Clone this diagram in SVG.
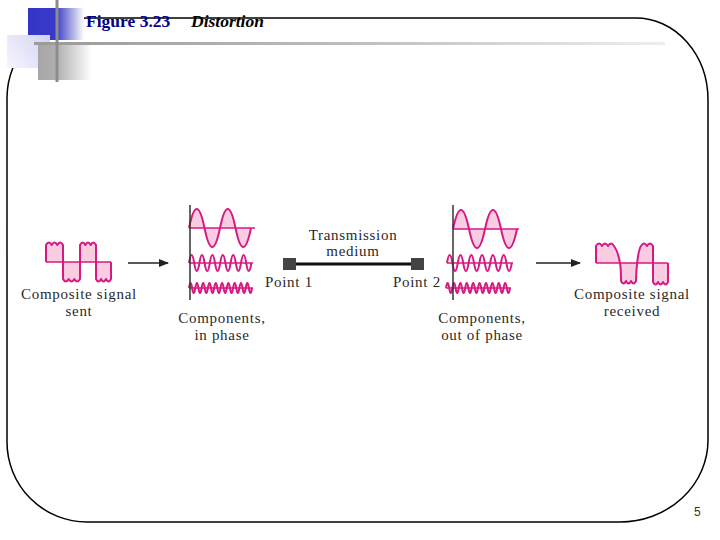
<svg xmlns="http://www.w3.org/2000/svg" width="720" height="540" viewBox="0 0 720 540">
<defs>
<linearGradient id="gBlue" x1="28" y1="0" x2="84" y2="0" gradientUnits="userSpaceOnUse">
<stop offset="0" stop-color="#3434c8"/><stop offset="0.5" stop-color="#3a3ac9"/><stop offset="0.75" stop-color="#9c9ce0"/><stop offset="1" stop-color="#ffffff"/>
</linearGradient>
<linearGradient id="gLav" x1="7" y1="68" x2="50" y2="35" gradientUnits="userSpaceOnUse">
<stop offset="0" stop-color="#f6f6fe"/><stop offset="1" stop-color="#d2d2f2"/>
</linearGradient>
<linearGradient id="gGray" x1="38" y1="0" x2="92" y2="0" gradientUnits="userSpaceOnUse">
<stop offset="0" stop-color="#a6a6a6"/><stop offset="0.35" stop-color="#b0b0b0"/><stop offset="1" stop-color="#ffffff"/>
</linearGradient>
<linearGradient id="gLine" x1="34" y1="0" x2="665" y2="0" gradientUnits="userSpaceOnUse">
<stop offset="0" stop-color="#9a9a9a"/><stop offset="0.5" stop-color="#bdbdbd"/><stop offset="1" stop-color="#eeeeee"/>
</linearGradient>
<marker id="arr" markerWidth="10" markerHeight="8" refX="9" refY="4" orient="auto" markerUnits="userSpaceOnUse">
<path d="M0,0 L10,4 L0,8 Z" fill="#222"/>
</marker>
<style>
.lbl{font-family:"Liberation Serif","Times New Roman",serif;font-size:15px;letter-spacing:0.7px;fill:#2a2a2a;text-anchor:middle}
.lbs{font-family:"Liberation Serif","Times New Roman",serif;font-size:15px;letter-spacing:0.7px;fill:#2a2a2a}
.wv{fill:none;stroke:#d61a82;stroke-width:2;stroke-linejoin:round}
.fillp{fill:#f9cce2;stroke:none}
.base{stroke:#d61a82;stroke-width:1.6}
.axis{stroke:#333;stroke-width:1.5}
.arrow{stroke:#222;stroke-width:1.5;fill:none}
.ttl{font-family:"Liberation Serif","Times New Roman",serif;font-size:17.5px;font-weight:bold}
</style>
</defs>
<rect width="720" height="540" fill="#fff"/>
<!-- frame -->
<path d="M87,18 H636 A72,82 0 0 1 708,100 V440 A88,82 0 0 1 620,522 H87 A80,80 0 0 1 7,442 V98 A80,80 0 0 1 87,18 Z" fill="none" stroke="#000" stroke-width="1.5"/>
<!-- decoration -->
<g id="decoration">
<rect x="28" y="8" width="56" height="32" fill="url(#gBlue)"/>
<rect x="7" y="35" width="43" height="33" fill="url(#gLav)"/>
<rect x="38" y="45" width="54" height="35" fill="url(#gGray)"/>
<line x1="34" y1="43.5" x2="665" y2="43.5" stroke="url(#gLine)" stroke-width="3"/>
<line x1="57" y1="0" x2="57" y2="82" stroke="#8c8c8c" stroke-width="3"/>
</g>
<g id="title">
<text class="ttl" x="86" y="27" fill="#00008c">Figure 3.23</text>
<text class="ttl" x="191" y="27" font-style="italic" fill="#000">Distortion</text>
</g>
<!-- connectors -->
<g id="connectors">
<line class="arrow" x1="128" y1="263" x2="168" y2="263" marker-end="url(#arr)"/>
<line class="arrow" x1="536" y1="263" x2="580" y2="263" marker-end="url(#arr)"/>
</g>
<g id="sent">
<path class="fillp" d="M46,262 V245 Q48.8,240 51.7,245 Q54.5,240 57.3,245 Q60.2,240 63,245 V279 Q65.8,284 68.7,279 Q71.5,284 74.3,279 Q77.2,284 80,279 V245 Q82.7,240 85.3,245 Q88,240 90.7,245 Q93.3,240 96,245 V279 Q98.5,284 101,279 Q103.5,284 106,279 Q108.5,284 111,279 V262 Z"/>
<path class="wv" d="M46,262 V245 Q48.8,240 51.7,245 Q54.5,240 57.3,245 Q60.2,240 63,245 V279 Q65.8,284 68.7,279 Q71.5,284 74.3,279 Q77.2,284 80,279 V245 Q82.7,240 85.3,245 Q88,240 90.7,245 Q93.3,240 96,245 V279 Q98.5,284 101,279 Q103.5,284 106,279 Q108.5,284 111,279 V262"/>
<line class="base" x1="46" y1="262" x2="111" y2="262"/>
<text class="lbl" x="79" y="299">Composite signal</text>
<text class="lbl" x="79" y="316">sent</text>
</g>
<g id="inphase">
<path class="fillp" d="M189,228 q7.75,-38 15.5,0 t15.5,0 t15.5,0 t15.5,0 Z"/>
<path class="wv" d="M189,228 q7.75,-38 15.5,0 t15.5,0 t15.5,0 t15.5,0"/>
<line class="base" x1="189" y1="228" x2="255" y2="228"/>
<path class="wv" d="M189,263 q2.6,-16 5.2,0 t5.2,0 t5.2,0 t5.2,0 t5.2,0 t5.2,0 t5.2,0 t5.2,0 t5.2,0 t5.2,0 t5.2,0 t5.2,0"/>
<line class="base" x1="189" y1="263" x2="253" y2="263"/>
<path class="wv" d="M189,288 q1.6,-10 3.15,0 t3.15,0 t3.15,0 t3.15,0 t3.15,0 t3.15,0 t3.15,0 t3.15,0 t3.15,0 t3.15,0 t3.15,0 t3.15,0 t3.15,0 t3.15,0 t3.15,0 t3.15,0 t3.15,0 t3.15,0 t3.15,0 t3.15,0"/>
<line class="base" x1="189" y1="288" x2="253" y2="288"/>
<line class="axis" x1="190" y1="205" x2="190" y2="300"/>
<text class="lbl" x="222" y="323">Components,</text>
<text class="lbl" x="222" y="340">in phase</text>
</g>
<g id="medium">
<line x1="290" y1="264" x2="417" y2="264" stroke="#111" stroke-width="3"/>
<rect x="283" y="258" width="13" height="12" fill="#444"/>
<rect x="411" y="258" width="13" height="12" fill="#444"/>
<text class="lbl" x="353" y="240">Transmission</text>
<text class="lbl" x="353" y="256">medium</text>
<text class="lbs" x="265" y="287">Point 1</text>
<text class="lbs" x="393" y="287">Point 2</text>
</g>
<g id="outphase">
<path class="fillp" d="M453,229 q8,-38 16,0 t16,0 t16,0 t16,0 Z"/>
<path class="wv" d="M453,229 q8,-38 16,0 t16,0 t16,0 t16,0"/>
<line class="base" x1="453" y1="229" x2="519" y2="229"/>
<path class="wv" d="M447,263 q2.7,-16 5.4,0 t5.4,0 t5.4,0 t5.4,0 t5.4,0 t5.4,0 t5.4,0 t5.4,0 t5.4,0 t5.4,0 t5.4,0 t5.4,0"/>
<line class="base" x1="447" y1="263" x2="513" y2="263"/>
<path class="wv" d="M446,288 q1.6,-10 3.2,0 t3.2,0 t3.2,0 t3.2,0 t3.2,0 t3.2,0 t3.2,0 t3.2,0 t3.2,0 t3.2,0 t3.2,0 t3.2,0 t3.2,0 t3.2,0 t3.2,0 t3.2,0 t3.2,0 t3.2,0 t3.2,0 t3.2,0"/>
<line class="base" x1="446" y1="288" x2="511" y2="288"/>
<line class="axis" x1="453" y1="205" x2="453" y2="300"/>
<text class="lbl" x="482" y="323">Components,</text>
<text class="lbl" x="482" y="340">out of phase</text>
</g>
<g id="received">
<path class="fillp" d="M596,263 V246 Q599,241 602,246 Q605,241 608,246 Q611,241 614,246 C617,250 619,257 620,263 C621,268 621,275 621,281 Q623.5,286 626,281 Q628.5,286 631,281 Q633.5,286 636,281 C636,270 638,250 641,246 Q644,241 647,246 Q650,241 653,246 V282 Q655.5,287 658,282 Q660.5,287 663,282 Q665.5,287 668,282 V263 Z"/>
<path class="wv" d="M596,263 V246 Q599,241 602,246 Q605,241 608,246 Q611,241 614,246 C617,250 619,257 620,263 C621,268 621,275 621,281 Q623.5,286 626,281 Q628.5,286 631,281 Q633.5,286 636,281 C636,270 638,250 641,246 Q644,241 647,246 Q650,241 653,246 V282 Q655.5,287 658,282 Q660.5,287 663,282 Q665.5,287 668,282 V263"/>
<line class="base" x1="596" y1="263" x2="668" y2="263"/>
<text class="lbl" x="632" y="299">Composite signal</text>
<text class="lbl" x="632" y="316">received</text>
</g>
<text x="694" y="516" font-family="'Liberation Sans',Arial,sans-serif" font-size="12" fill="#333">5</text>
</svg>
